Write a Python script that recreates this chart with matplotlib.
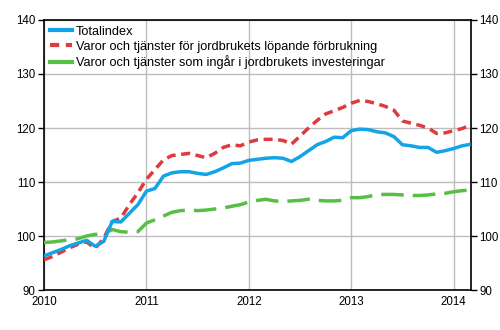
import numpy as np
import matplotlib
matplotlib.use("Agg")
import matplotlib.pyplot as plt
from matplotlib.lines import Line2D

plt.rcParams['font.family'] = ['Liberation Sans', 'DejaVu Sans']

start_year = 2010
labels = ["Totalindex",
          "Varor och tjänster för jordbrukets löpande förbrukning",
          "Varor och tjänster som ingår i jordbrukets investeringar"]

total = [96.3, 96.9, 97.5, 98.2, 98.7, 99.2, 98.1, 99.0, 102.7, 102.6, 104.2, 105.8,
         108.3, 108.8, 111.1, 111.7, 111.9, 111.9, 111.6, 111.4, 111.9, 112.6, 113.4, 113.5,
         114.0, 114.2, 114.4, 114.5, 114.4, 113.8, 114.7, 115.8, 116.9, 117.5, 118.3, 118.2,
         119.5, 119.8, 119.7, 119.3, 119.1, 118.4, 116.9, 116.7, 116.4, 116.4, 115.5, 115.8,
         116.2, 116.7, 117.0]
current = [95.6, 96.2, 97.0, 97.8, 98.5, 98.9, 97.7, 99.6, 102.7, 103.3, 105.8, 108.0,
           110.5, 112.3, 114.1, 114.9, 115.1, 115.3, 114.9, 114.5, 115.3, 116.4, 116.9, 116.7,
           117.4, 117.8, 117.9, 117.9, 117.7, 117.0, 118.5, 120.0, 121.4, 122.6, 123.2, 123.8,
           124.6, 125.1, 124.9, 124.5, 124.0, 123.3, 121.3, 120.9, 120.5, 120.0, 119.0, 119.1,
           119.5, 119.9, 120.6]
invest = [98.8, 98.9, 99.1, 99.3, 99.5, 100.0, 100.3, 100.4, 101.2, 100.8, 100.7, 100.8,
          102.4, 103.0, 103.7, 104.4, 104.7, 104.8, 104.7, 104.8, 105.0, 105.2, 105.5, 105.8,
          106.3, 106.6, 106.8, 106.5, 106.4, 106.5, 106.6, 106.8, 106.6, 106.5, 106.5, 106.6,
          107.1, 107.1, 107.3, 107.7, 107.7, 107.7, 107.6, 107.5, 107.5, 107.6, 107.8, 107.9,
          108.2, 108.4, 108.5]
year_ticks = [2010, 2011, 2012, 2013, 2014]
y_ticks = [90, 100, 110, 120, 130, 140]

blue = '#12A4E6'
red = '#DF3A3C'
green = '#58BF45'

x = start_year + np.arange(len(total)) / 12.0

fig = plt.figure(figsize=(5, 3.3), dpi=100)
ax = fig.add_axes([0.088, 0.1212, 0.8534, 0.8182])

lw = 2.5
ax.plot(x, invest, color=green, lw=lw, dashes=(6.5, 2.6), dash_capstyle='butt', zorder=3)
ax.plot(x, current, color=red, lw=lw, dashes=(2.6, 1.6), dash_capstyle='butt', zorder=4)
ax.plot(x, total, color=blue, lw=lw, solid_capstyle='butt', zorder=5)

ax.set_xlim(2010, 2010 + 50 / 12.0)
ax.set_ylim(90, 140)
ax.set_xticks(year_ticks)
ax.set_xticklabels([str(y) for y in year_ticks])
ax.set_yticks(y_ticks)
ax.grid(True, color='#bdbdbd', lw=1.0, zorder=0)
ax.set_axisbelow(True)
for s in ax.spines.values():
    s.set_color('black')
    s.set_linewidth(1.2)

ax.tick_params(axis='y', which='both', direction='out', length=4, width=1,
               labelsize=8.3, left=True, right=True, labelleft=True, labelright=True, pad=2)
ax.tick_params(axis='x', length=0, labelsize=8.3, pad=4)

handles = [Line2D([], [], color=blue, lw=3.0),
           Line2D([], [], color=red, lw=3.0, dashes=(2.2, 1.6)),
           Line2D([], [], color=green, lw=3.0)]
ax.legend(handles, labels, loc='upper left', frameon=False, fontsize=9.2,
          handlelength=1.75, handletextpad=0.3, labelspacing=0.22,
          borderaxespad=0.25, borderpad=0.2)

fig.savefig('out.png', dpi=100)
